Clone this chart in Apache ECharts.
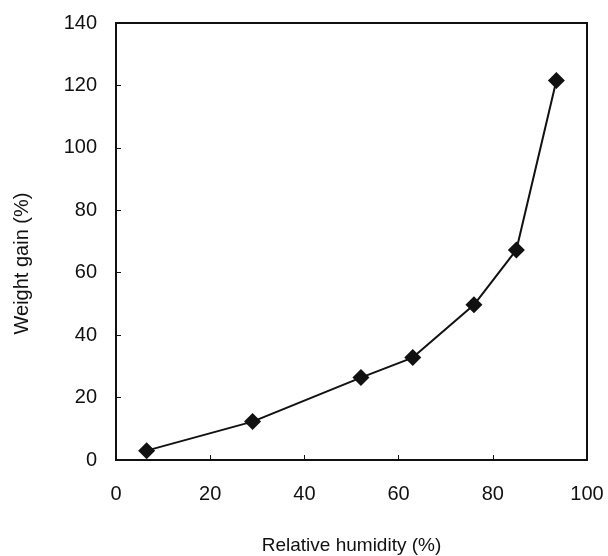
<!DOCTYPE html>
<html><head><meta charset="utf-8">
<script src="https://cdn.jsdelivr.net/npm/echarts@6/dist/echarts.min.js"></script>
<style>html,body{margin:0;padding:0;background:#fff}#c{width:608px;height:556px}</style>
</head><body><div id="c"></div>
<script>
var humidity = [6.5, 29, 52, 63, 76, 85, 93.5];
var weightGain = [3, 12.3, 26.4, 32.8, 49.7, 67.3, 121.6];
var xTitle = 'Relative humidity (%)';
var yTitle = 'Weight gain (%)';

var chart = echarts.init(document.getElementById('c'), null, {renderer: 'canvas'});
var font = 'Liberation Sans, Arial, sans-serif';
chart.setOption({
  animation: false,
  backgroundColor: '#fff',
  grid: {left: 116, right: 21, top: 23, bottom: 96, containLabel: false, outerBoundsMode: 'none',
         show: true, borderColor: '#111', borderWidth: 2, backgroundColor: 'transparent'},
  xAxis: {
    type: 'value', min: 0, max: 100, interval: 20,
    name: xTitle, nameLocation: 'middle', nameGap: 76,
    nameTextStyle: {fontFamily: font, fontSize: 19, color: '#111'},
    axisLine: {show: true, lineStyle: {color: '#111', width: 2}},
    axisTick: {show: true, inside: true, length: 5, lineStyle: {color: '#111', width: 1}},
    axisLabel: {fontFamily: font, fontSize: 20, color: '#111', margin: 24},
    splitLine: {show: false}
  },
  yAxis: {
    type: 'value', min: 0, max: 140, interval: 20,
    name: yTitle, nameLocation: 'middle', nameGap: 84,
    nameTextStyle: {fontFamily: font, fontSize: 20, color: '#111', padding: [0, 44, 0, 0]},
    axisLine: {show: true, lineStyle: {color: '#111', width: 2}},
    axisTick: {show: true, inside: true, length: 5, lineStyle: {color: '#111', width: 1}},
    axisLabel: {fontFamily: font, fontSize: 20, color: '#111', margin: 19},
    splitLine: {show: false}
  },
  series: [{
    type: 'line',
    data: humidity.map(function (x, i) { return [x, weightGain[i]]; }),
    symbol: 'diamond', symbolSize: 17,
    itemStyle: {color: '#111'},
    lineStyle: {color: '#111', width: 2}
  }]
});
</script></body></html>
